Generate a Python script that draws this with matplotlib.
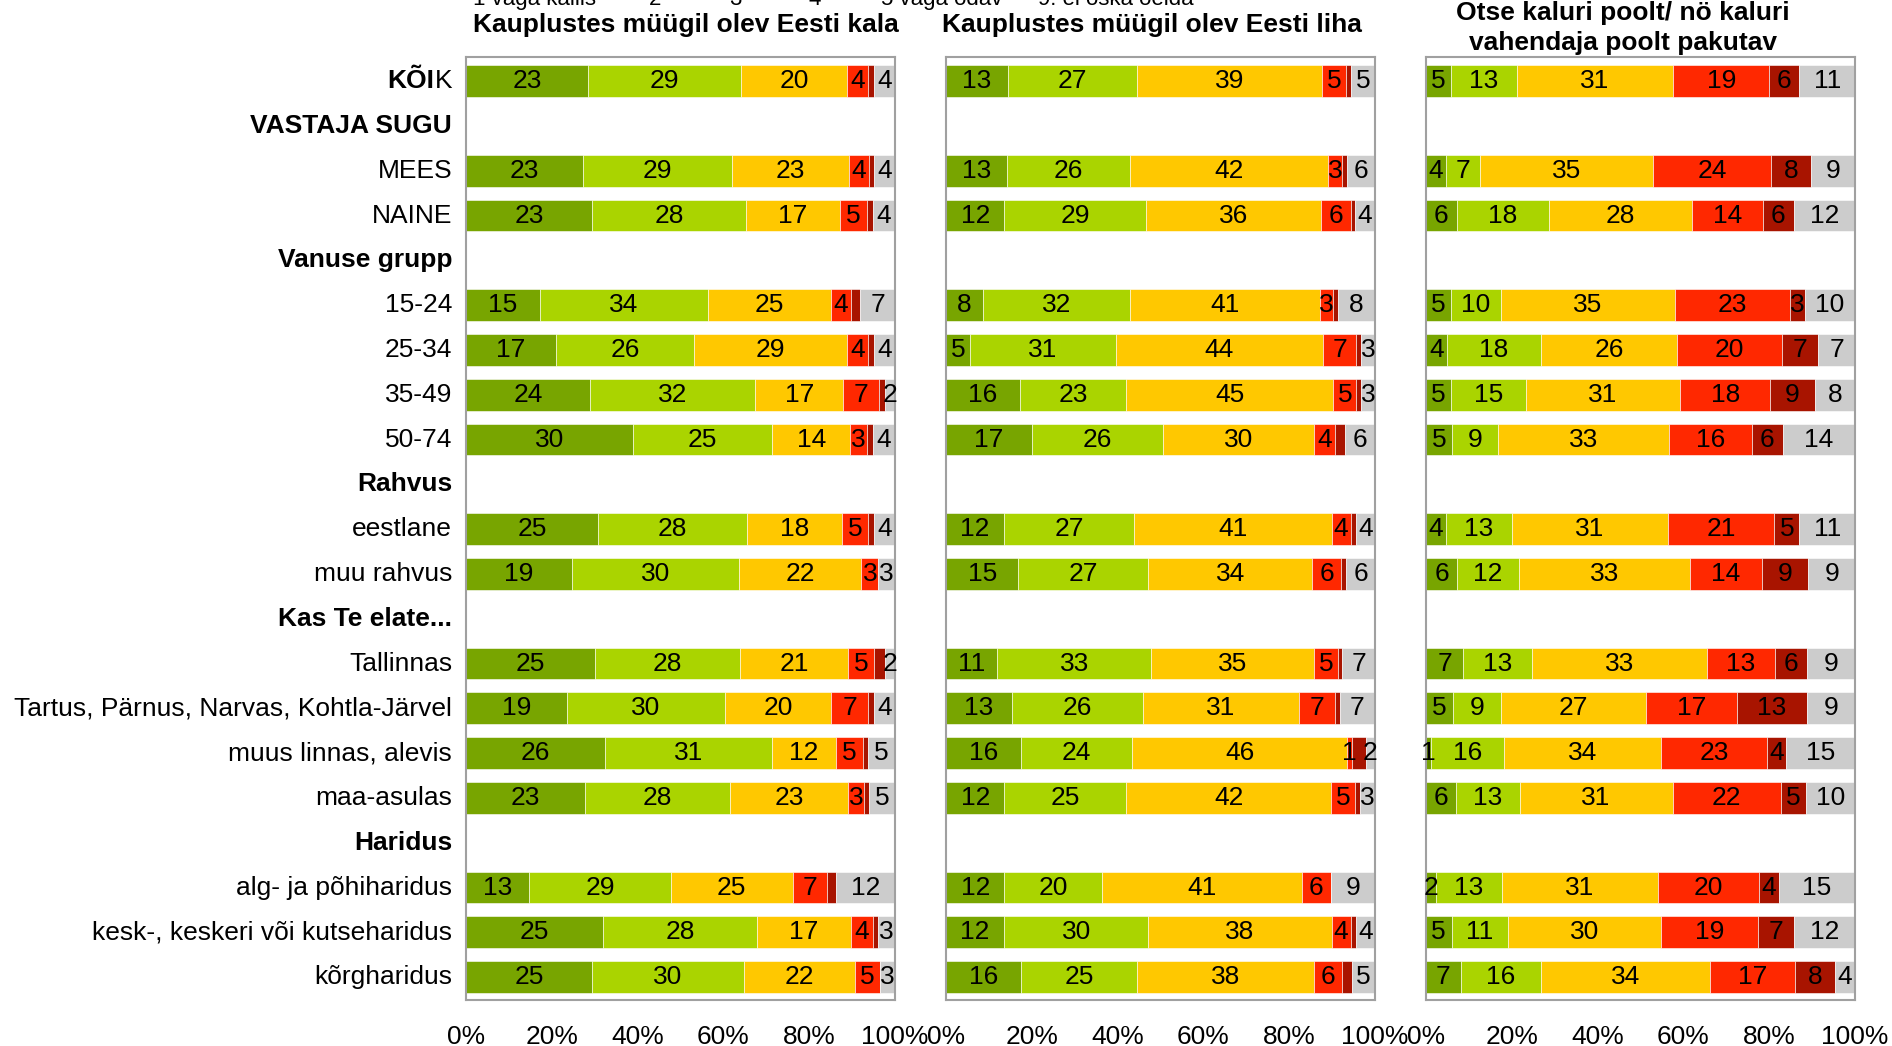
import numpy as np
import matplotlib.pyplot as plt

plt.rcParams['font.family'] = ['Liberation Sans', 'DejaVu Sans']

# read rows, headers have no bars
rows = ["KÕIK", "VASTAJA SUGU", "MEES", "NAINE", "Vanuse grupp", "15-24", "25-34",
        "35-49", "50-74", "Rahvus", "eestlane", "muu rahvus", "Kas Te elate...",
        "Tallinnas", "Tartus, Pärnus, Narvas, Kohtla-Järvel", "muus linnas, alevis",
        "maa-asulas", "Haridus", "alg- ja põhiharidus", "kesk-, keskeri või kutseharidus",
        "kõrgharidus"]
headers = ["VASTAJA SUGU", "Vanuse grupp", "Rahvus", "Kas Te elate...", "Haridus"]

# 1 väga kallis, 2, 3, 4, 5 väga odav, 9 ei oska öelda
kala = [(23, 29, 20, 4, 1, 4), None, (23, 29, 23, 4, 1, 4), (23, 28, 17, 5, 1, 4), None,
        (15, 34, 25, 4, 2, 7), (17, 26, 29, 4, 1, 4), (24, 32, 17, 7, 1, 2), (30, 25, 14, 3, 1, 4),
        None, (25, 28, 18, 5, 1, 4), (19, 30, 22, 3, 0, 3), None,
        (25, 28, 21, 5, 2, 2), (19, 30, 20, 7, 1, 4), (26, 31, 12, 5, 1, 5), (23, 28, 23, 3, 1, 5),
        None, (13, 29, 25, 7, 2, 12), (25, 28, 17, 4, 1, 3), (25, 30, 22, 5, 0, 3)]

liha = [(13, 27, 39, 5, 1, 5), None, (13, 26, 42, 3, 1, 6), (12, 29, 36, 6, 1, 4), None,
        (8, 32, 41, 3, 1, 8), (5, 31, 44, 7, 1, 3), (16, 23, 45, 5, 1, 3), (17, 26, 30, 4, 2, 6),
        None, (12, 27, 41, 4, 1, 4), (15, 27, 34, 6, 1, 6), None,
        (11, 33, 35, 5, 1, 7), (13, 26, 31, 7, 1, 7), (16, 24, 46, 1, 3, 2), (12, 25, 42, 5, 1, 3),
        None, (12, 20, 41, 6, 0, 9), (12, 30, 38, 4, 1, 4), (16, 25, 38, 6, 2, 5)]

kalur = [(5, 13, 31, 19, 6, 11), None, (4, 7, 35, 24, 8, 9), (6, 18, 28, 14, 6, 12), None,
         (5, 10, 35, 23, 3, 10), (4, 18, 26, 20, 7, 7), (5, 15, 31, 18, 9, 8), (5, 9, 33, 16, 6, 14),
         None, (4, 13, 31, 21, 5, 11), (6, 12, 33, 14, 9, 9), None,
         (7, 13, 33, 13, 6, 9), (5, 9, 27, 17, 13, 9), (1, 16, 34, 23, 4, 15), (6, 13, 31, 22, 5, 10),
         None, (2, 13, 31, 20, 4, 15), (5, 11, 30, 19, 7, 12), (7, 16, 34, 17, 8, 4)]

titles = ["Kauplustes müügil olev Eesti kala", "Kauplustes müügil olev Eesti liha",
          "Otse kaluri poolt/ nö kaluri\nvahendaja poolt pakutav"]
legend_labels = ["1 väga kallis", "2", "3", "4", "5 väga odav", "9. ei oska öelda"]
colors = ['#78a500', '#aad400', '#ffc800', '#ff2800', '#a81400', '#cccccc']

fs = 19

fig = plt.figure(figsize=(18.92, 10.46), dpi=100)

lefts = [466 / 1892, 946 / 1892, 1426 / 1892]
y = np.arange(len(rows))

for p, data in enumerate([kala, liha, kalur]):
    ax = fig.add_axes([lefts[p], 0.044, 0.2267, 0.9015])
    vals = np.array([d if d is not None else (0,) * 6 for d in data], dtype=float)
    tot = vals.sum(axis=1)
    tot[tot == 0] = 1
    share = vals / tot[:, None]
    start = np.cumsum(share, axis=1) - share
    for k in range(6):
        ax.barh(y, share[:, k], left=start[:, k], height=0.71, color=colors[k],
                edgecolor='white', linewidth=0.4)
        for i in range(len(rows)):
            v = int(vals[i, k])
            if v == 0 or (k == 4 and p < 2):
                continue
            ax.text(start[i, k] + share[i, k] / 2, i, str(v), ha='center', va='center',
                    fontsize=fs, color='black')

    ax.set_xlim(0, 1)
    ax.set_ylim(20.51, -0.54)
    ax.set_xticks(np.linspace(0, 1, 6))
    ax.set_xticklabels(['0%', '20%', '40%', '60%', '80%', '100%'])
    ax.tick_params(axis='x', length=0, pad=18, labelsize=fs)
    ax.set_yticks([])
    for s in ax.spines.values():
        s.set_color('#a0a0a0')
        s.set_linewidth(1.5)

    if p == 0:
        for i, lab in enumerate(rows):
            if lab == "KÕIK":
                ax.annotate("K", xy=(0, i), xycoords=('axes fraction', 'data'), xytext=(-10, 0),
                            textcoords='offset points', ha='right', va='center', fontsize=fs)
                ax.annotate("KÕI", xy=(0, i), xycoords=('axes fraction', 'data'),
                            xytext=(-10 - 0.667 * fs, 0), textcoords='offset points', ha='right',
                            va='center', fontsize=fs, fontweight='bold')
                continue
            ax.annotate(lab, xy=(0, i), xycoords=('axes fraction', 'data'), xytext=(-10, 0),
                        textcoords='offset points', ha='right', va='center', fontsize=fs,
                        fontweight='bold' if lab in headers else 'normal')

# titles
fig.text(686 / 1892, 1 - 25 / 1046, titles[0], ha='center', va='center', fontsize=fs, fontweight='bold')
fig.text(1152 / 1892, 1 - 25 / 1046, titles[1], ha='center', va='center', fontsize=fs, fontweight='bold')
fig.text(1623 / 1892, 1 - 28 / 1046, titles[2], ha='center', va='center', fontsize=fs,
         fontweight='bold', linespacing=1.3)

# legend row, mostly cut off at the top edge as in the source
leg_x = [473, 649, 729, 808, 881, 1038]
for xx, lab in zip(leg_x, legend_labels):
    fig.text(xx / 1892, 1 - 5 / 1046, lab, ha='left', va='baseline', fontsize=16)

fig.savefig('out.png', dpi=100)
